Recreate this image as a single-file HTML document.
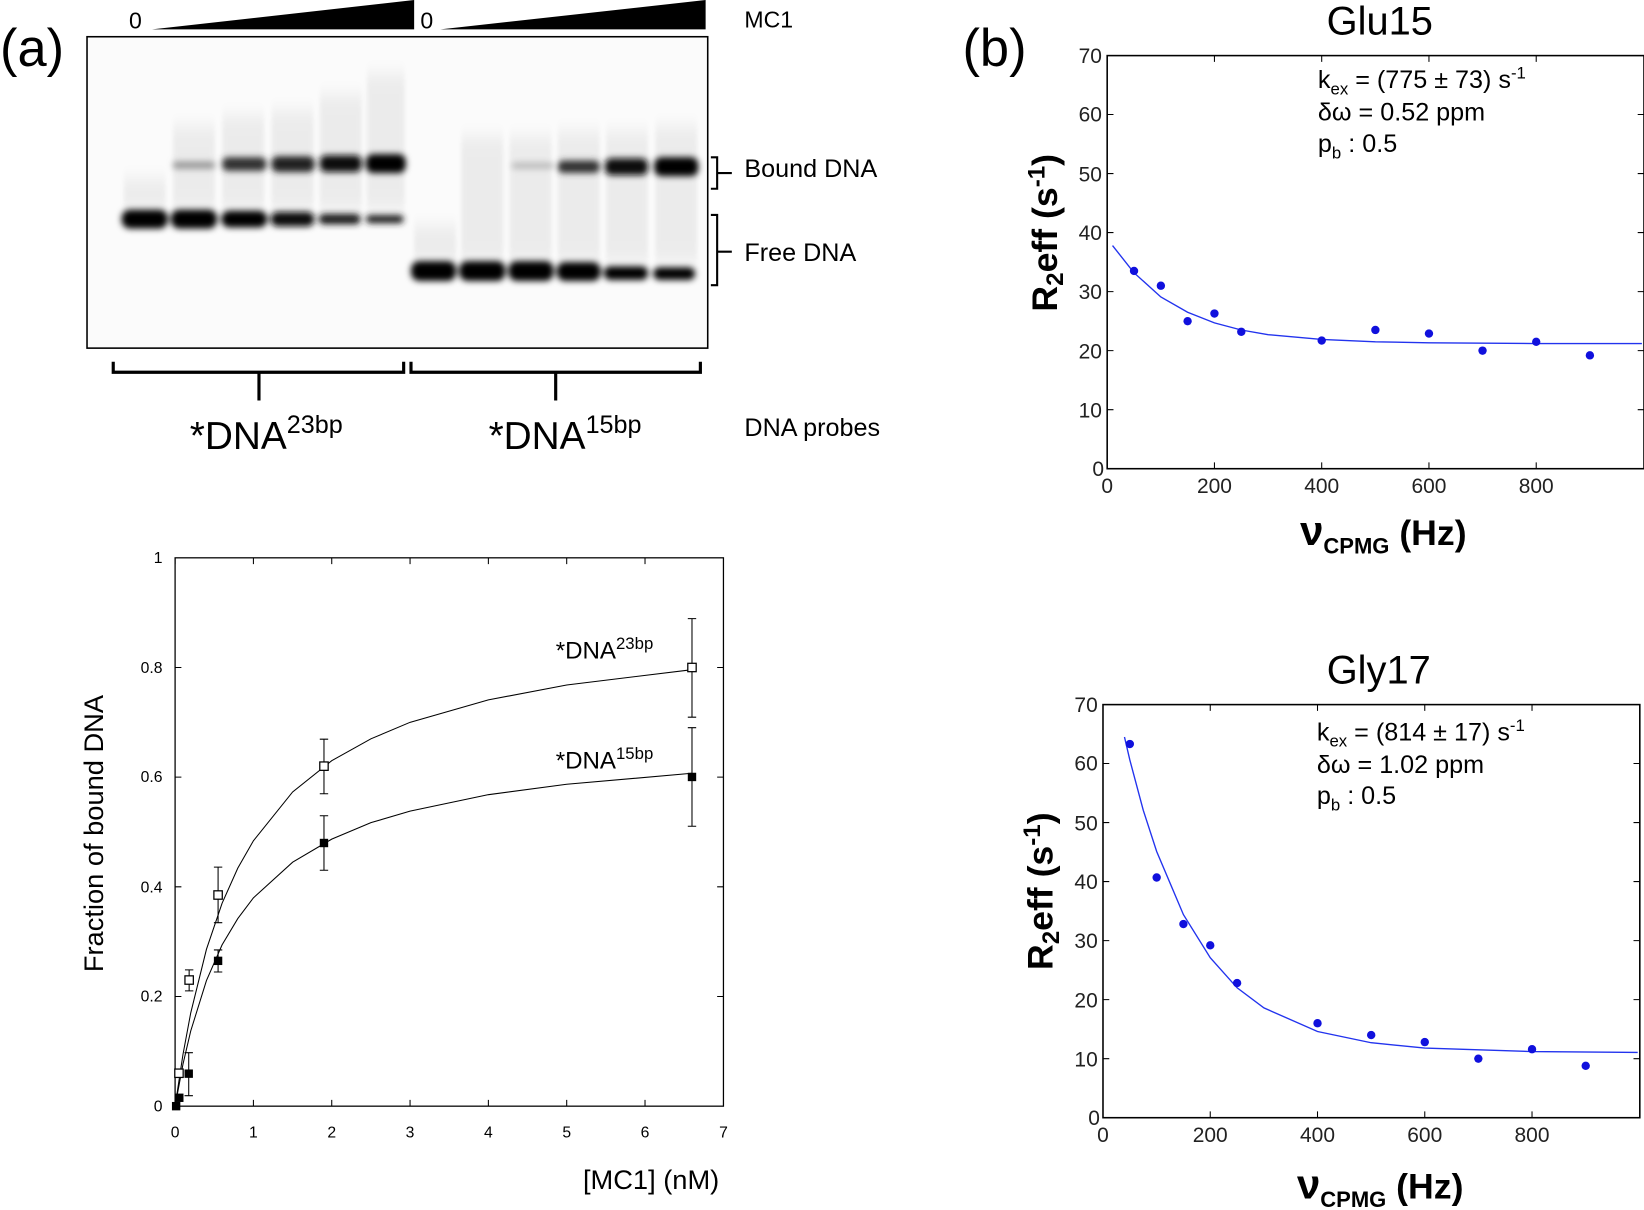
<!DOCTYPE html>
<html><head><meta charset="utf-8"><style>html,body{margin:0;padding:0;background:#fff}svg{display:block}text{font-family:"Liberation Sans",Arial,sans-serif}</style></head>
<body>
<svg width="1644" height="1210" viewBox="0 0 1568 1154" xmlns="http://www.w3.org/2000/svg">
<defs>
<filter id="bl" x="-20%" y="-100%" width="140%" height="300%"><feGaussianBlur stdDeviation="3 3"/></filter>
<filter id="bl2" x="-20%" y="-200%" width="140%" height="500%"><feGaussianBlur stdDeviation="2 8"/></filter>
</defs>
<text x="0" y="63" font-size="50">(a)</text>
<text x="123" y="27" font-size="22">0</text>
<polygon points="145,28 395,0 395,28" fill="#000"/>
<text x="401" y="27" font-size="22">0</text>
<polygon points="420,28 673,0 673,28" fill="#000"/>
<text x="710" y="26" font-size="22">MC1</text>
<rect x="83" y="35" width="592" height="297" fill="#fbfbfb" stroke="#000" stroke-width="1.5"/>
<g filter="url(#bl2)" fill="#000" opacity="0.06">
<rect x="118" y="170" width="40" height="30"/><rect x="165" y="120" width="40" height="80"/><rect x="212" y="110" width="40" height="90"/><rect x="259" y="105" width="40" height="95"/><rect x="305" y="90" width="40" height="110"/><rect x="350" y="70" width="36" height="130"/>
<rect x="395" y="215" width="40" height="35"/><rect x="440" y="130" width="40" height="120"/><rect x="486" y="130" width="40" height="120"/><rect x="532" y="125" width="40" height="125"/><rect x="578" y="125" width="40" height="125"/><rect x="625" y="120" width="40" height="130"/>
</g>
<g filter="url(#bl)" fill="#000">
<rect x="116" y="200" width="44" height="18" rx="8"/>
<rect x="163" y="200" width="44" height="18" rx="8"/>
<rect x="211" y="201" width="44" height="16" rx="8"/>
<rect x="258" y="202" width="42" height="14" rx="7" fill="#111"/>
<rect x="304" y="204" width="40" height="10" rx="5" fill="#1a1a1a"/>
<rect x="349" y="205" width="36" height="8" rx="4" fill="#222"/>
<rect x="392" y="249" width="43" height="19" rx="8"/>
<rect x="438" y="249" width="44" height="19" rx="8"/>
<rect x="485" y="249" width="43" height="19" rx="8"/>
<rect x="531" y="250" width="42" height="18" rx="8"/>
<rect x="576" y="254" width="42" height="13" rx="6"/>
<rect x="623" y="255" width="40" height="12" rx="6"/>
<rect x="165" y="154" width="40" height="7" rx="3" fill="#999"/>
<rect x="212" y="150" width="42" height="13" rx="5" fill="#333"/>
<rect x="259" y="149" width="41" height="15" rx="6" fill="#222"/>
<rect x="305" y="148" width="40" height="16" rx="6" fill="#111"/>
<rect x="349" y="147" width="38" height="18" rx="7"/>
<rect x="488" y="155" width="40" height="6" rx="3" fill="#bbb"/>
<rect x="532" y="153" width="40" height="12" rx="5" fill="#333"/>
<rect x="577" y="151" width="41" height="16" rx="6" fill="#111"/>
<rect x="624" y="150" width="42" height="18" rx="7"/>
</g>
<path d="M678,150 h6 v30 h-6 M684,165 h14 M678,205 h6 v67 h-6 M684,240 h14" fill="none" stroke="#000" stroke-width="2"/>
<text x="710" y="169" font-size="24">Bound DNA</text>
<text x="710" y="249" font-size="24">Free DNA</text>
<path d="M108,345 v10 h277 v-10 M247,355 v27 M392,345 v10 h276 v-10 M530,355 v27" fill="none" stroke="#000" stroke-width="3"/>
<text x="181" y="428" font-size="37">*DNA<tspan font-size="24" dy="-15">23bp</tspan></text>
<text x="466" y="428" font-size="37">*DNA<tspan font-size="24" dy="-15">15bp</tspan></text>
<text x="710" y="416" font-size="24">DNA probes</text>

<rect x="167" y="532" width="523" height="523" fill="none" stroke="#000" stroke-width="1.2"/>
<g stroke="#000" stroke-width="1">
<path d="M167,1055v-6M241.7,1055v-6M316.4,1055v-6M391.1,1055v-6M465.8,1055v-6M540.5,1055v-6M615.2,1055v-6M167,532v6M241.7,532v6M316.4,532v6M391.1,532v6M465.8,532v6M540.5,532v6M615.2,532v6"/>
<path d="M167,950.4h6M167,845.8h6M167,741.2h6M167,636.6h6M690,950.4h-6M690,845.8h-6M690,741.2h-6M690,636.6h-6"/>
</g>
<g font-size="15" text-anchor="middle">
<text x="167" y="1085">0</text><text x="241.7" y="1085">1</text><text x="316.4" y="1085">2</text><text x="391.1" y="1085">3</text><text x="465.8" y="1085">4</text><text x="540.5" y="1085">5</text><text x="615.2" y="1085">6</text><text x="690" y="1085">7</text>
</g>
<g font-size="15" text-anchor="end">
<text x="155" y="1060">0</text><text x="155" y="955">0.2</text><text x="155" y="851">0.4</text><text x="155" y="746">0.6</text><text x="155" y="642">0.8</text><text x="155" y="537">1</text>
</g>
<text transform="translate(98,795) rotate(-90)" font-size="26" text-anchor="middle">Fraction of bound DNA</text>
<text x="621" y="1134" font-size="26" text-anchor="middle">[MC1] (nM)</text>
<polyline fill="none" stroke="#000" stroke-width="1" points="167,1055 174.5,1005.8 181.9,966.1 196.9,905.4 211.8,861.5 226.8,828 241.7,801.9 279.1,755.3 316.4,725.5 353.8,704.6 391.1,688.9 465.8,667.5 540.5,653.3 660,638.7"/>
<polyline fill="none" stroke="#000" stroke-width="1" points="167,1055 174.5,1015 181.9,983.3 196.9,935.2 211.8,901.2 226.8,876.1 241.7,856.3 279.1,822.3 316.4,800.3 353.8,784.6 391.1,773.6 465.8,757.9 540.5,748 660,737.5"/>
<g stroke="#000" stroke-width="1" fill="none">
<path d="M180.4,945v-20M176.4,945h8M176.4,925h8 M208,880v-53M204,880h8M204,827h8 M309,757v-52M305,757h8M305,705h8 M660,684v-94M656,684h8M656,590h8"/>
<path d="M180,1045v-41M176,1045h8M176,1004h8 M208,927v-21M204,927h8M204,906h8 M309,830v-52M305,830h8M305,778h8 M660,788v-94M656,788h8M656,694h8"/>
</g>
<g fill="#fff" stroke="#000" stroke-width="1.2">
<rect x="166.7" y="1019.6" width="8" height="8"/><rect x="176.4" y="930.7" width="8" height="8"/><rect x="204" y="849.6" width="8" height="8"/><rect x="305" y="726.7" width="8" height="8"/><rect x="656" y="632.6" width="8" height="8"/>
</g>
<g fill="#000">
<rect x="164" y="1051" width="8" height="8"/><rect x="167" y="1043" width="8" height="8"/><rect x="176" y="1020" width="8" height="8"/><rect x="204" y="912.4" width="8" height="8"/><rect x="305" y="800" width="8" height="8"/><rect x="656" y="737" width="8" height="8"/>
</g>
<text x="530" y="628" font-size="23">*DNA<tspan font-size="16" dy="-9">23bp</tspan></text>
<text x="530" y="733" font-size="23">*DNA<tspan font-size="16" dy="-9">15bp</tspan></text>

<text x="918" y="63" font-size="50">(b)</text>
<text x="1316" y="33" font-size="38" text-anchor="middle">Glu15</text>
<rect x="1056" y="53" width="512" height="394" fill="none" stroke="#000" stroke-width="1.5"/>
<g stroke="#000" stroke-width="1">
<path d="M1158.3,447v-6M1260.6,447v-6M1362.9,447v-6M1465.2,447v-6M1158.3,53v6M1260.6,53v6M1362.9,53v6M1465.2,53v6"/>
<path d="M1056,390.7h6M1056,334.4h6M1056,278.1h6M1056,221.8h6M1056,165.5h6M1056,109.2h6M1568,390.7h-6M1568,334.4h-6M1568,278.1h-6M1568,221.8h-6M1568,165.5h-6M1568,109.2h-6"/>
</g>
<g font-size="20" text-anchor="end" fill="#222">
<text x="1053" y="454">0</text><text x="1051" y="398">10</text><text x="1051" y="342">20</text><text x="1051" y="285">30</text><text x="1051" y="229">40</text><text x="1051" y="173">50</text><text x="1051" y="116">60</text><text x="1051" y="60">70</text>
</g>
<g font-size="20" text-anchor="middle" fill="#222">
<text x="1056" y="470">0</text><text x="1158.3" y="470">200</text><text x="1260.6" y="470">400</text><text x="1362.9" y="470">600</text><text x="1465.2" y="470">800</text>
</g>
<text x="1257" y="84" font-size="24">k<tspan font-size="16" dy="6">ex</tspan><tspan dy="-6"> = (775 ± 73) s</tspan><tspan font-size="16" dy="-9">-1</tspan></text>
<text x="1257" y="115" font-size="24">δω = 0.52 ppm</text>
<text x="1257" y="145" font-size="24">p<tspan font-size="16" dy="6">b</tspan><tspan dy="-6"> : 0.5</tspan></text>
<text transform="translate(1008,222) rotate(-90)" font-size="34" font-weight="bold" text-anchor="middle">R<tspan font-size="23" dy="6">2</tspan><tspan dy="-6">eff (s</tspan><tspan font-size="23" dy="-12">-1</tspan><tspan dy="12">)</tspan></text>
<text x="1240" y="520" font-size="40" font-weight="bold" font-family="Liberation Serif">ν<tspan font-family="Liberation Sans" font-size="21" dy="8">CPMG</tspan><tspan font-family="Liberation Sans" font-size="34" dy="-8"> (Hz)</tspan></text>
<polyline fill="none" stroke="#2233ee" stroke-width="1.3" points="1061.1,234.2 1081.6,260.1 1107.2,283.2 1132.7,297.8 1158.3,307.9 1183.9,314.7 1209.5,319.2 1260.6,323.7 1311.8,326 1362.9,326.9 1465.2,327.6 1566,327.6"/>
<g fill="#1010dd">
<circle cx="1081.6" cy="258.4" r="4"/><circle cx="1107.2" cy="272.5" r="4"/><circle cx="1132.7" cy="306.3" r="4"/><circle cx="1158.3" cy="299" r="4"/><circle cx="1183.9" cy="316.4" r="4"/><circle cx="1260.6" cy="324.8" r="4"/><circle cx="1311.8" cy="314.7" r="4"/><circle cx="1362.9" cy="318.1" r="4"/><circle cx="1414" cy="334.4" r="4"/><circle cx="1465.2" cy="326" r="4"/><circle cx="1516.4" cy="338.9" r="4"/>
</g>
<text x="1315" y="652" font-size="38" text-anchor="middle">Gly17</text>
<rect x="1052" y="672" width="512" height="394" fill="none" stroke="#000" stroke-width="1.5"/>
<g stroke="#000" stroke-width="1">
<path d="M1154.3,1066v-6M1256.6,1066v-6M1358.9,1066v-6M1461.2,1066v-6M1154.3,672v6M1256.6,672v6M1358.9,672v6M1461.2,672v6"/>
<path d="M1052,1009.7h6M1052,953.4h6M1052,897.1h6M1052,840.8h6M1052,784.5h6M1052,728.2h6M1564,1009.7h-6M1564,953.4h-6M1564,897.1h-6M1564,840.8h-6M1564,784.5h-6M1564,728.2h-6"/>
</g>
<g font-size="20" text-anchor="end" fill="#222">
<text x="1049" y="1073">0</text><text x="1047" y="1017">10</text><text x="1047" y="961">20</text><text x="1047" y="904">30</text><text x="1047" y="848">40</text><text x="1047" y="792">50</text><text x="1047" y="735">60</text><text x="1047" y="679">70</text>
</g>
<g font-size="20" text-anchor="middle" fill="#222">
<text x="1052" y="1089">0</text><text x="1154.3" y="1089">200</text><text x="1256.6" y="1089">400</text><text x="1358.9" y="1089">600</text><text x="1461.2" y="1089">800</text>
</g>
<text x="1256" y="706" font-size="24">k<tspan font-size="16" dy="6">ex</tspan><tspan dy="-6"> = (814 ± 17) s</tspan><tspan font-size="16" dy="-9">-1</tspan></text>
<text x="1256" y="737" font-size="24">δω = 1.02 ppm</text>
<text x="1256" y="767" font-size="24">p<tspan font-size="16" dy="6">b</tspan><tspan dy="-6"> : 0.5</tspan></text>
<text transform="translate(1004,850) rotate(-90)" font-size="34" font-weight="bold" text-anchor="middle">R<tspan font-size="23" dy="6">2</tspan><tspan dy="-6">eff (s</tspan><tspan font-size="23" dy="-12">-1</tspan><tspan dy="12">)</tspan></text>
<text x="1237" y="1143" font-size="40" font-weight="bold" font-family="Liberation Serif">ν<tspan font-family="Liberation Sans" font-size="21" dy="8">CPMG</tspan><tspan font-family="Liberation Sans" font-size="34" dy="-8"> (Hz)</tspan></text>
<polyline fill="none" stroke="#2233ee" stroke-width="1.3" points="1072.5,702.9 1077.6,724.8 1090.4,772.7 1103.2,812.1 1128.7,872.3 1154.3,913.4 1179.9,942.1 1205.5,961.3 1256.6,983.8 1307.8,994.5 1358.9,999.6 1461.2,1002.9 1562,1003.8"/>
<g fill="#1010dd">
<circle cx="1077.6" cy="709.6" r="4"/><circle cx="1103.2" cy="836.9" r="4"/><circle cx="1128.7" cy="881.3" r="4"/><circle cx="1154.3" cy="901.6" r="4"/><circle cx="1179.9" cy="937.6" r="4"/><circle cx="1256.6" cy="975.9" r="4"/><circle cx="1307.8" cy="987.2" r="4"/><circle cx="1358.9" cy="993.9" r="4"/><circle cx="1410" cy="1009.7" r="4"/><circle cx="1461.2" cy="1000.7" r="4"/><circle cx="1512.4" cy="1016.5" r="4"/>
</g>
</svg>
</body></html>
